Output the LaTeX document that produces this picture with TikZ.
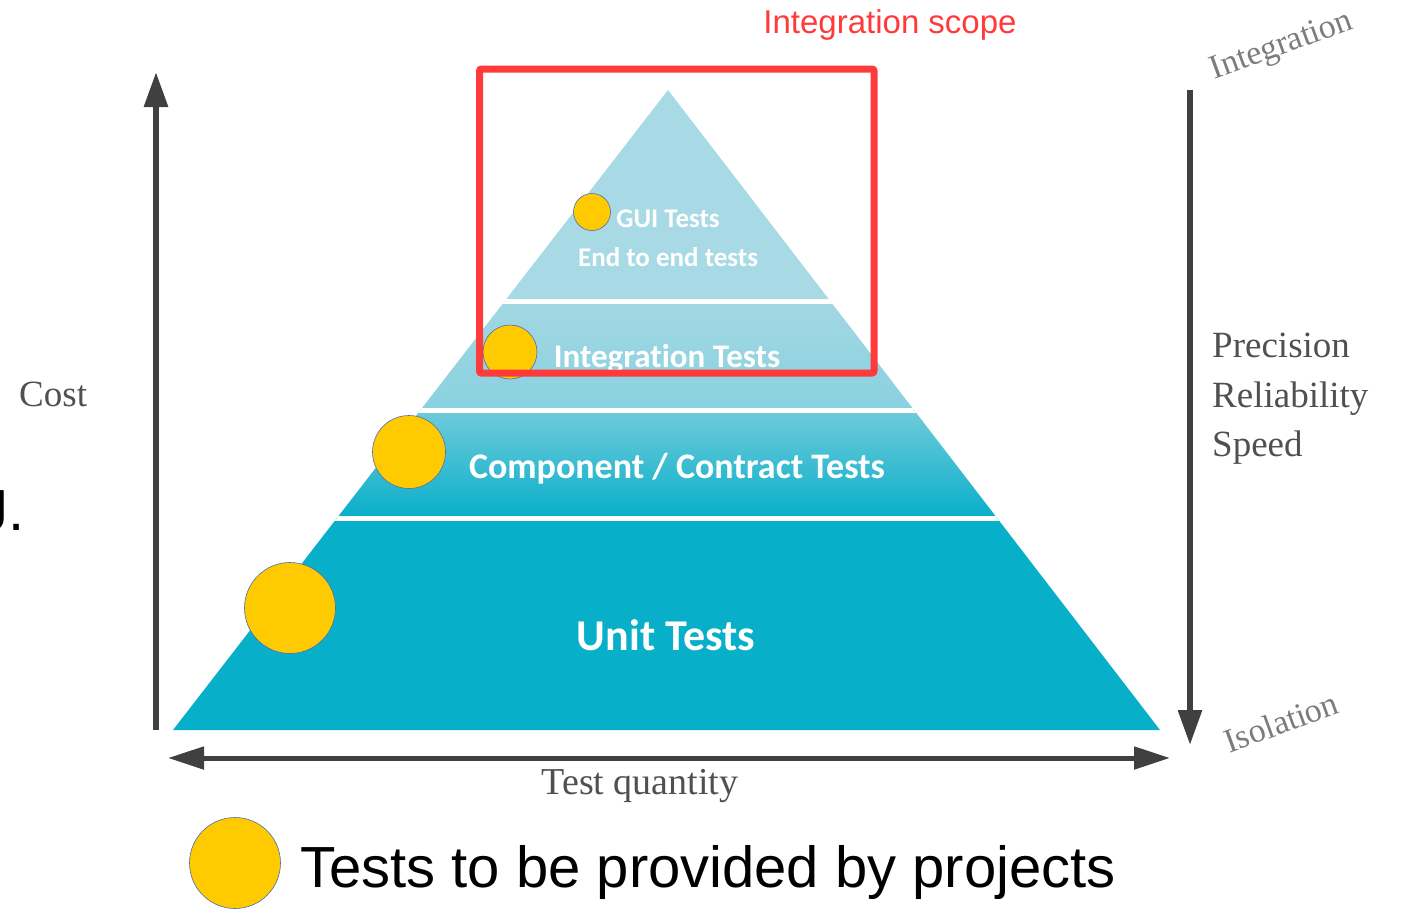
\documentclass[tikz,border=0pt]{standalone}
\usepackage{fontspec}
\usepackage{tikz}
\usetikzlibrary{arrows.meta}
\newfontfamily\carlito[Ligatures=NoCommon]{Carlito}
\newfontfamily\arialfont{Liberation Sans}
\newfontfamily\timesfont{Liberation Serif}
\definecolor{bandtop}{HTML}{A8DAE5}
\definecolor{bandint}{HTML}{8AD0DF}
\definecolor{bandcomp}{HTML}{70CBDB}
\definecolor{bandunit}{HTML}{08AFC9}
\definecolor{scopered}{HTML}{FF3A3A}
\definecolor{dotyellow}{HTML}{FFCA00}
\definecolor{dotrim}{HTML}{4A6EB0}
\definecolor{axisgray}{HTML}{404040}
\definecolor{labelgray}{HTML}{505050}

\begin{document}
\begin{tikzpicture}[x=1pt,y=-1pt,
	dot/.style={circle,fill=dotyellow,draw=dotrim,line width=0.6pt,inner sep=0pt},
	band/.style={text=white,font=\carlito\bfseries\fontsize{#1}{#1}\selectfont,anchor=base,inner sep=0pt},
	serif/.style={text=labelgray,font=\timesfont\fontsize{37}{40}\selectfont,anchor=base west,inner sep=0pt},
	tilted/.style={text=labelgray!75,font=\timesfont\fontsize{34}{36}\selectfont,rotate=20,inner sep=0pt}]
			\useasboundingbox (0,0) rectangle (1402,908);
			
			% pyramid
			
			\begin{scope}
				\clip (668,90) -- (1160,730) -- (173,730) -- cycle;
				\fill[bandtop] (150,80) rectangle (1180,302);
				\shade[top color=bandtop!80!bandint,bottom color=bandint] (150,302) rectangle (1180,410);
				\shade[top color=bandcomp,middle color=bandunit!70!bandcomp,bottom color=bandunit] (150,410) rectangle (1180,518);
				\fill[bandunit] (150,518) rectangle (1180,740);
				\foreach \y in {301.5,410.5,518.5}
					\draw[white,line width=5pt] (150,\y) -- (1180,\y);
			\end{scope}
			
			\node[band=27] (gui) at (668,227) {GUI Tests};
			\node[band=27] (e2e) at (668,266) {End to end tests};
			\node[band=33] (integ) at (667,367) {Integration Tests};
			\node[band=36] (comp) at (677,478) {Component / Contract Tests};
			\node[band=44] (unit) at (666,650) {Unit Tests};
			
			\node[dot,minimum size=37pt] (D1) at (592,212) {};
			\node[dot,minimum size=54pt] (D2) at (510,352) {};
			\node[dot,minimum size=73pt] (D3) at (409,452) {};
			\node[dot,minimum size=91pt] (D4) at (290,608) {};
			
			% axes
			
			\coordinate (costlo) at (156,730);
			\coordinate (costhi) at (156,72);
			\coordinate (preclo) at (1190,90);
			\coordinate (prechi) at (1190,745);
			\coordinate (qtyl) at (168,758);
			\coordinate (qtyr) at (1170,758);
			\draw[axisgray,line width=6pt,-{Triangle[length=35pt,width=23pt]}] (costlo) -- (costhi);
			\draw[axisgray,line width=6pt,-{Triangle[length=35pt,width=23pt]}] (preclo) -- (prechi);
			\draw[axisgray,line width=5pt,{Triangle[length=36pt,width=22pt]}-{Triangle[length=36pt,width=22pt]}] (qtyl) -- (qtyr);
			
			\node[serif] (cost) at (19,406) {Cost};
			\node[serif] (prec) at (1212,357) {Precision};
			\node[serif] (rel) at (1212,407) {Reliability};
			\node[serif] (speed) at (1212,456) {Speed};
			\node[serif,anchor=base,font=\timesfont\fontsize{38}{40}\selectfont] (qty) at (640,794) {Test quantity};
			\node[tilted] (integr) at (1282,47) {Integration};
			\node[tilted] (isol) at (1281,722) {Isolation};
			
			% scope box
			
			\draw[scopered,line width=7pt,rounded corners=2pt] (479.5,69) rectangle (874,373);
			\node[text=scopered,font=\arialfont\fontsize{33}{40}\selectfont,anchor=base,inner sep=0pt] (scopelbl) at (890,33) {Integration scope};
			
			% legend
			
			\node[dot,minimum size=91pt] (D5) at (235,863) {};
			\node[font=\arialfont\fontsize{58}{70}\selectfont,anchor=base west,inner sep=0pt] (legend) at (300,887) {Tests to be provided by projects};
			\node[font=\arialfont\fontsize{58}{70}\selectfont,anchor=base east,inner sep=0pt] (cut) at (25,530) {J.};
		\end{tikzpicture}
\end{document}
